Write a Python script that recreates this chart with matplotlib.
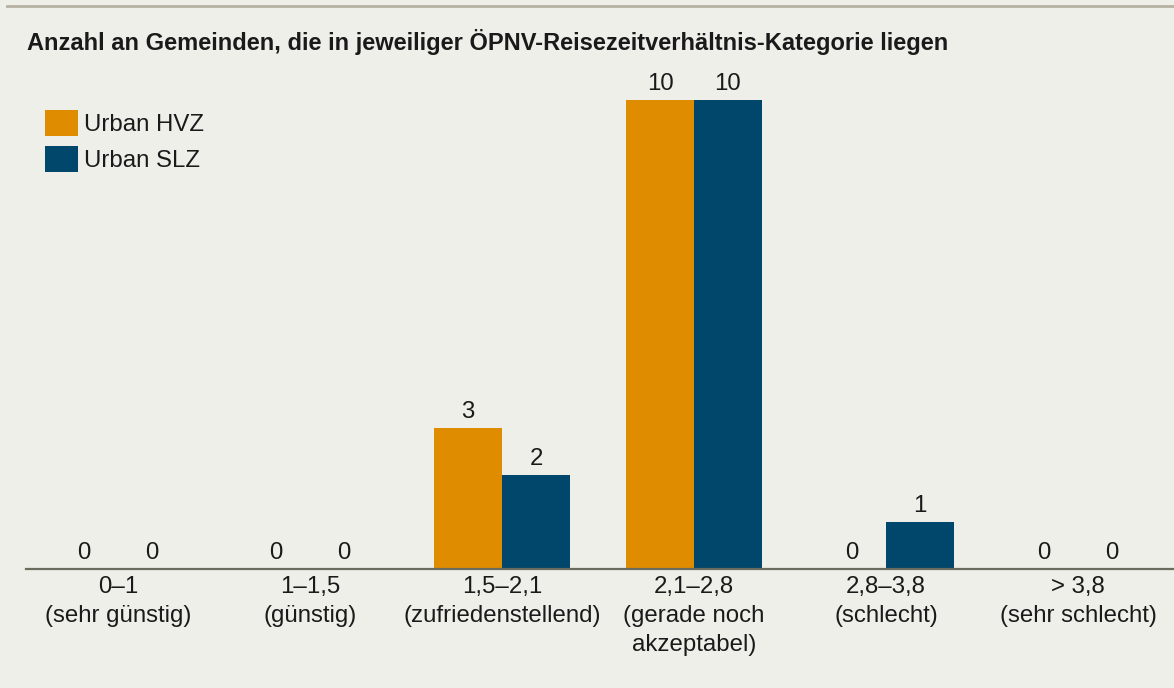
import numpy as np
import matplotlib.pyplot as plt
from matplotlib.patches import Patch

plt.rcParams['font.family'] = ['Liberation Sans', 'DejaVu Sans']

# Data
categories = ['0–1\n(sehr günstig)', '1–1,5\n(günstig)', '1,5–2,1\n(zufriedenstellend)',
              '2,1–2,8\n(gerade noch\nakzeptabel)', '2,8–3,8\n(schlecht)', '> 3,8\n(sehr schlecht)']
urban_hvz = [0, 0, 3, 10, 0, 0]
urban_slz = [0, 0, 2, 10, 1, 0]
series_names = ['Urban HVZ', 'Urban SLZ']

bg = '#efefea'
orange = '#df8c00'
blue = '#00476b'
text_col = '#1a1a1a'
fs = 17.3

W, H = 1174, 688
fig = plt.figure(figsize=(W / 100, H / 100), dpi=100, facecolor=bg)

# axes placed in pixel terms: baseline at y=569, left at x=26
left_px, base_px = 26, 569
ax = fig.add_axes([left_px / W, (H - base_px) / H, (W - left_px) / W, 516 / H])
ax.set_facecolor(bg)
ax.patch.set_alpha(0)

x = np.arange(len(categories))
w = 0.354
b1 = ax.bar(x - w / 2, urban_hvz, w, color=orange, label=series_names[0])
b2 = ax.bar(x + w / 2, urban_slz, w, color=blue, label=series_names[1])

for bars in (b1, b2):
    for rect in bars:
        h = rect.get_height()
        ax.annotate(f'{int(h)}', (rect.get_x() + rect.get_width() / 2, h),
                    xytext=(0, 3.5), textcoords='offset points',
                    ha='center', va='bottom', fontsize=fs, color=text_col)

ax.set_xlim(-0.479, 5.5)
ax.set_ylim(0, 11)
ax.set_yticks([])
ax.set_xticks(x)
ax.set_xticklabels(categories, fontsize=fs, color=text_col, linespacing=1.42)
ax.tick_params(axis='x', length=0, pad=5)
for s in ['top', 'right', 'left']:
    ax.spines[s].set_visible(False)
ax.spines['bottom'].set_color('#6b6b5e')
ax.spines['bottom'].set_linewidth(1.6)

# top rule
fig.add_artist(plt.Line2D([7 / W, 1], [1 - 5.5 / H, 1 - 5.5 / H], color='#b5b2a3', linewidth=2))

fig.text(27 / W, 1 - 42 / H, 'Anzahl an Gemeinden, die in jeweiliger ÖPNV-Reisezeitverhältnis-Kategorie liegen',
         fontsize=17, fontweight='bold', color=text_col, va='center', ha='left')

handles = [Patch(facecolor=orange), Patch(facecolor=blue)]
fig.legend(handles, series_names, loc='upper left', bbox_to_anchor=(28 / W, 1 - 93 / H),
           frameon=False, fontsize=fs, handlelength=1.4, handleheight=1.3,
           handletextpad=0.25, labelspacing=0.42, borderpad=0.2, labelcolor=text_col)

fig.savefig('out.png', dpi=100, facecolor=bg)
